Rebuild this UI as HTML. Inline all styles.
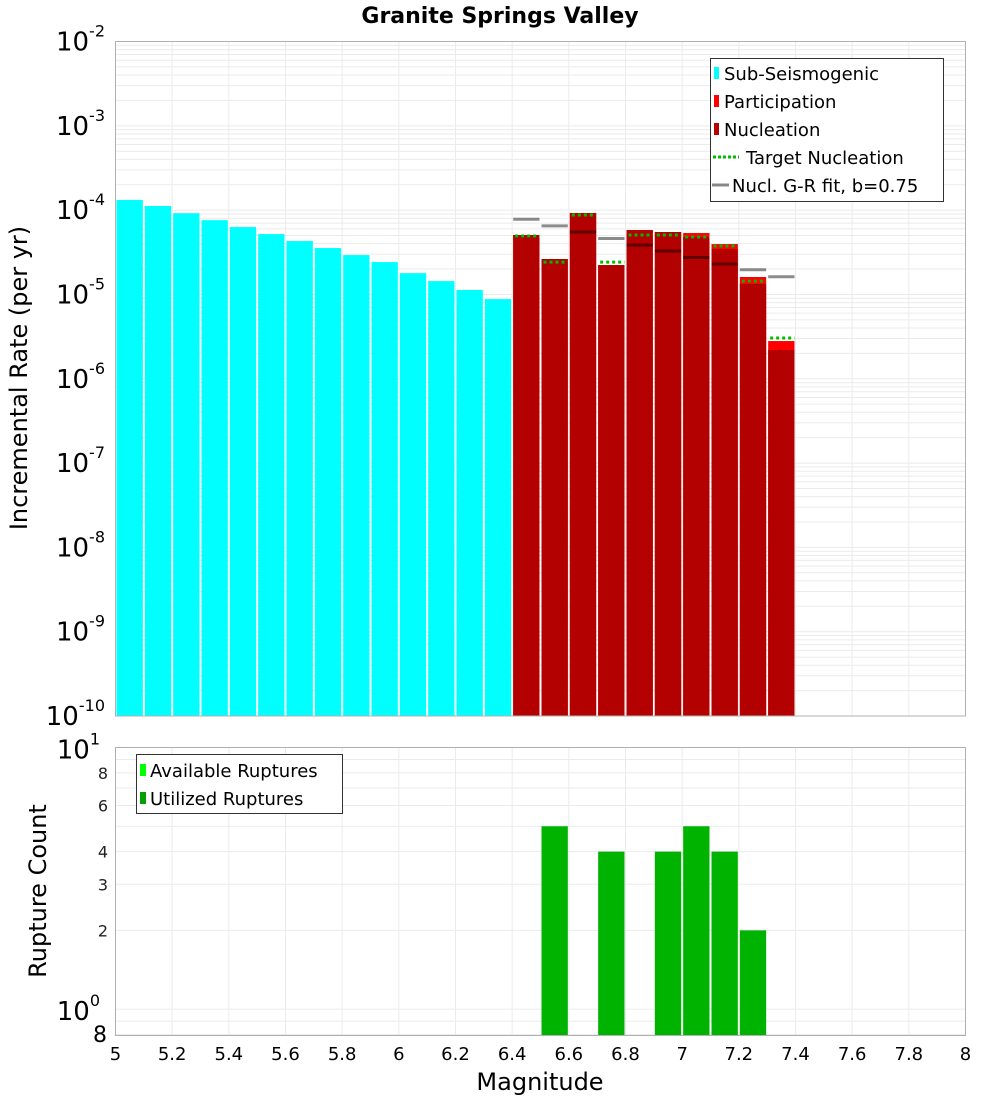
<!DOCTYPE html>
<html><head><meta charset="utf-8"><style>
body{margin:0;background:#fff}
svg{display:block;font-family:"DejaVu Sans","Liberation Sans",sans-serif}
</style></head><body>
<svg id="chart" width="1000" height="1100" xmlns="http://www.w3.org/2000/svg">
<text x="500" y="23" text-anchor="middle" font-size="22" font-weight="bold">Granite Springs Valley</text>
<g id="top-grid"></g>
<g id="bot-grid"></g>
<g id="top-marks"></g>
<g id="bot-marks"></g>
<rect x="115.5" y="41.5" width="850" height="674.5" fill="none" stroke="#b0b0b0"/>
<rect x="115.5" y="747.5" width="850" height="288" fill="none" stroke="#b0b0b0"/>
<g id="top-yticks"></g>
<g id="bot-yticks"></g>
<g id="xticks"></g>
<text transform="translate(27,378) rotate(-90)" text-anchor="middle" font-size="24">Incremental Rate (per yr)</text>
<text transform="translate(46,891) rotate(-90)" text-anchor="middle" font-size="24">Rupture Count</text>
<text x="540" y="1090" text-anchor="middle" font-size="24">Magnitude</text>
<g>
<rect x="710.5" y="58.5" width="233" height="143" fill="#fff" stroke="#333"/>
<rect x="714" y="67" width="5" height="12" fill="#00ffff"/>
<text x="724" y="80" font-size="18">Sub-Seismogenic</text>
<rect x="714" y="95" width="5" height="12" fill="#ff0000"/>
<text x="724" y="108" font-size="18">Participation</text>
<rect x="714" y="123" width="5" height="12" fill="#b30000"/>
<text x="724" y="136" font-size="18">Nucleation</text>
<line x1="713" y1="157" x2="739" y2="157" stroke="#00bb00" stroke-width="3" stroke-dasharray="3,2"/>
<text x="746" y="164" font-size="18">Target Nucleation</text>
<line x1="712" y1="185" x2="729" y2="185" stroke="#888" stroke-width="3"/>
<text x="732" y="192" font-size="18">Nucl. G-R fit, b=0.75</text>
</g>
<g>
<rect x="136.5" y="754.5" width="206" height="59" fill="#fff" stroke="#333"/>
<rect x="140" y="764" width="6" height="12" fill="#00ff00"/>
<text x="150" y="777" font-size="18">Available Ruptures</text>
<rect x="140" y="792" width="6" height="12" fill="#00a000"/>
<text x="150" y="805" font-size="18">Utilized Ruptures</text>
</g>
</svg>
<script>
const subMags=[5.0,5.1,5.2,5.3,5.4,5.5,5.6,5.7,5.8,5.9,6.0,6.1,6.2,6.3];
const subRates=[1.32e-4,1.12e-4,9.2e-5,7.6e-5,6.3e-5,5.2e-5,4.3e-5,3.55e-5,2.93e-5,2.42e-5,1.79e-5,1.44e-5,1.13e-5,8.8e-6];
const supMags=[6.4,6.5,6.6,6.7,6.8,6.9,7.0,7.1,7.2,7.3];
const partRates=[5.07e-5,2.63e-5,9.25e-5,2.23e-5,5.8e-5,5.5e-5,5.35e-5,3.96e-5,1.61e-5,2.8e-6];
const nuclRates=[5.07e-5,2.63e-5,9.25e-5,2.23e-5,5.8e-5,5.5e-5,4.8e-5,3.46e-5,1.33e-5,2.19e-6];
const targetRates=[4.93e-5,2.42e-5,8.75e-5,2.42e-5,5.07e-5,5.07e-5,4.8e-5,3.75e-5,1.44e-5,3.04e-6];
const grRates=[7.8e-5,6.5e-5,5.5e-5,4.6e-5,3.85e-5,3.27e-5,2.74e-5,2.30e-5,1.96e-5,1.62e-5];
const rupMags=[6.5,6.7,6.9,7.0,7.1,7.2];
const rupCounts=[5,4,4,5,4,2];
const xTicks=[5,5.2,5.4,5.6,5.8,6,6.2,6.4,6.6,6.8,7,7.2,7.4,7.6,7.8,8];
const topDecades=[-2,-3,-4,-5,-6,-7,-8,-9,-10];
const botMinorLabels=[8,6,4,3,2];

const NS='http://www.w3.org/2000/svg';
const X0=115.5,X1=965.5;
const x=m=>X0+(m-5)/3*(X1-X0);
const TY0=41.5,TY1=716;
const yTop=v=>TY0+(-2-Math.log10(v))*(TY1-TY0)/8;
const BY0=747.5,BDEC=261.6;
const yBot=v=>BY0+(1-Math.log10(v))*BDEC;
function mk(tag,attrs,parent,txt){const e=document.createElementNS(NS,tag);for(const k in attrs)e.setAttribute(k,attrs[k]);if(txt!==undefined)e.textContent=txt;document.getElementById(parent).appendChild(e);return e;}

// grids
xTicks.forEach(t=>{
 let l=mk('line',{x1:x(t),x2:x(t),y1:TY0,y2:TY1,stroke:'#ebebeb'},'top-grid');
 
 
 let l2=mk('line',{x1:x(t),x2:x(t),y1:BY0,y2:1035.5,stroke:'#ebebeb'},'bot-grid');
 
 
});
for(let d=-10;d<-2;d++){for(let k=1;k<10;k++){const yy=yTop(k*Math.pow(10,d));
 let l=mk('line',{x1:X0,x2:X1,y1:yy,y2:yy,stroke:'#ebebeb'},'top-grid');
 
 }}
[0.8,0.9,1,2,3,4,5,6,7,8,9].forEach(v=>{const yy=yBot(v);
 let l=mk('line',{x1:X0,x2:X1,y1:yy,y2:yy,stroke:'#ebebeb'},'bot-grid');
 
 });

// top bars
subMags.forEach((m,i)=>{const yy=yTop(subRates[i]);
 let r=mk('rect',{x:x(m)+1,y:yy,width:x(m+0.1)-x(m)-2,height:TY1-yy,fill:'#00ffff'},'top-marks');
 
 });
supMags.forEach((m,i)=>{const w=x(m+0.1)-x(m)-2,xl=x(m)+1;
 let yp=yTop(partRates[i]);
 let r=mk('rect',{x:xl,y:yp,width:w,height:TY1-yp,fill:'#ff0000'},'top-marks');
 
 
 let yn=yTop(nuclRates[i]);
 let r2=mk('rect',{x:xl,y:yn,width:w,height:TY1-yn,fill:'#b30000'},'top-marks');
 
 
 let yg=yTop(grRates[i]);
 let g=mk('line',{x1:xl,x2:xl+w,y1:yg,y2:yg,stroke:'rgba(0,0,0,0.45)','stroke-width':3},'top-marks');
 
 
 let yt=yTop(targetRates[i]);
 let t=mk('line',{x1:xl+2,x2:xl+w,y1:yt,y2:yt,stroke:'#00bb00','stroke-width':3,'stroke-dasharray':'3,3'},'top-marks');
 
 
});
// bottom bars
rupMags.forEach((m,i)=>{const yy=yBot(rupCounts[i]);
 let r=mk('rect',{x:x(m)+1,y:yy,width:x(m+0.1)-x(m)-2,height:1035.5-yy,fill:'#00b300'},'bot-marks');
 
 });

// ticks
xTicks.forEach(t=>{let e=mk('text',{x:x(t),y:1060,'text-anchor':'middle','font-size':18},'xticks',String(Math.round(t*10)/10));
 
 });
topDecades.forEach(d=>{const yy=yTop(Math.pow(10,d));
 let e=mk('text',{x:105,y:yy+9,'text-anchor':'end','font-size':26},'top-yticks');
 
 
 e.innerHTML='10<tspan dy="-14" font-size="16">'+d+'</tspan>';});
[[10,'1'],[1,'0']].forEach(([v,p])=>{const yy=yBot(v);
 let e=mk('text',{x:100,y:yy+11,'text-anchor':'end','font-size':26},'bot-yticks');
 
 
 e.innerHTML='10<tspan dy="-14" font-size="16">'+p+'</tspan>';});
botMinorLabels.forEach(v=>{const yy=yBot(v);
 let e=mk('text',{x:108,y:yy+6,'text-anchor':'end','font-size':16,fill:'#222'},'bot-yticks',String(v));
 
 });
let e8=mk('text',{x:107,y:1042,'text-anchor':'end','font-size':22},'bot-yticks','8');


</script>
</body></html>
